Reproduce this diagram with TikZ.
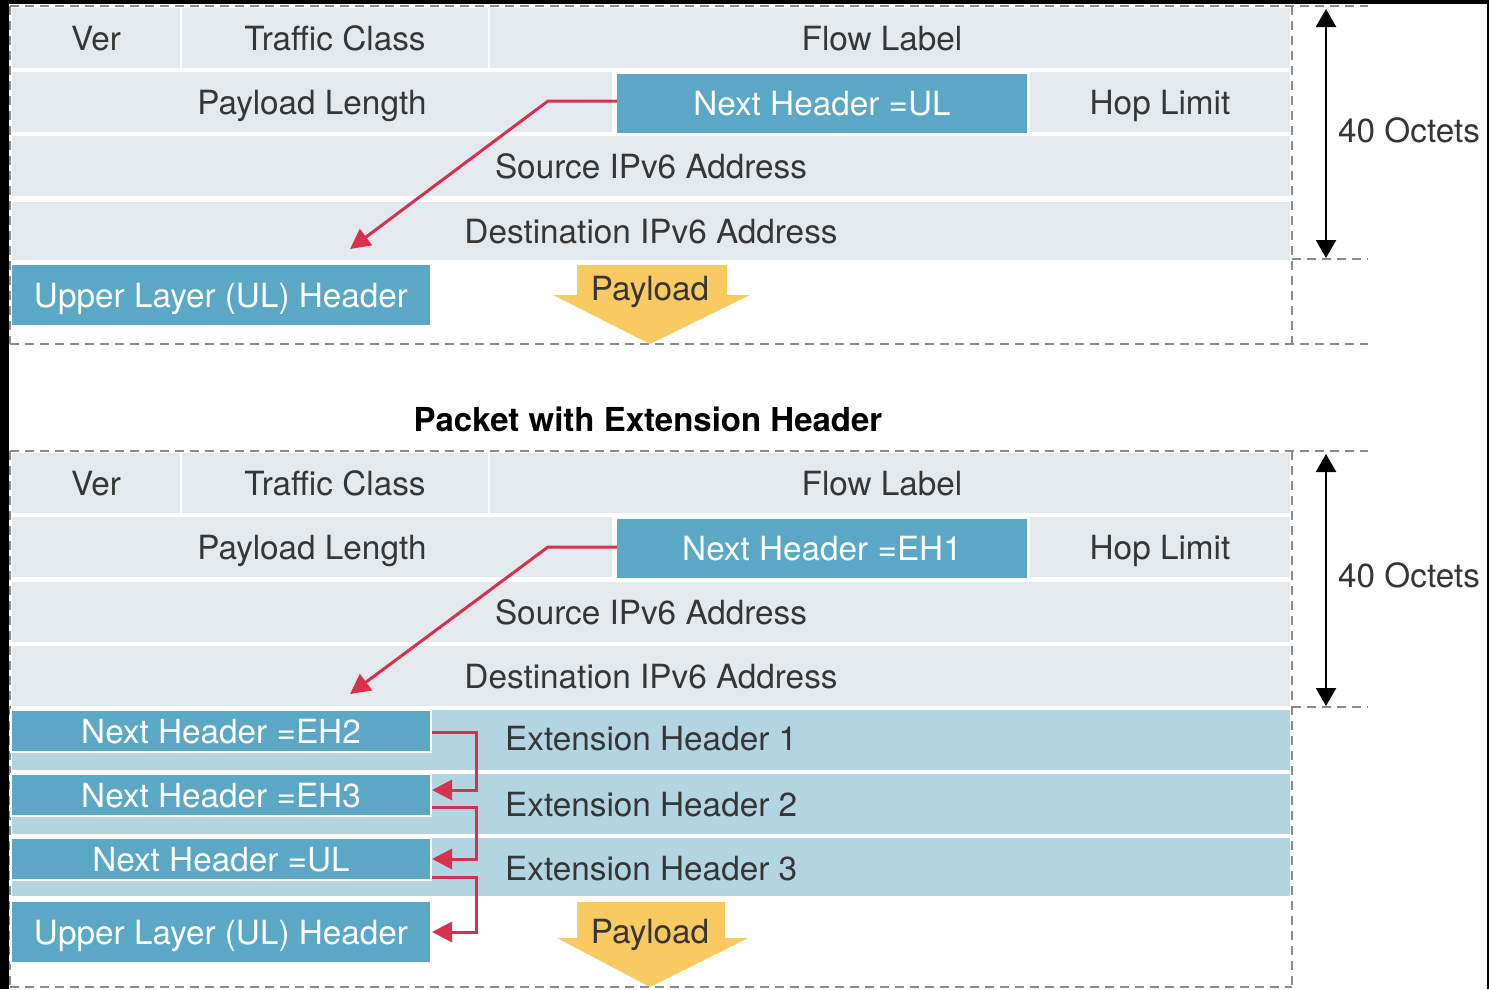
\documentclass[tikz,border=0pt]{standalone}
\usepackage{fontspec}
\setmainfont{TeX Gyre Heros}
\usetikzlibrary{arrows.meta}
\definecolor{rowc}{HTML}{E4E9EE}
\definecolor{bluec}{HTML}{5AA7C6}
\definecolor{bandc}{HTML}{B3D4E1}
\definecolor{yelc}{HTML}{F9CA62}
\definecolor{redc}{HTML}{D8314E}
\definecolor{txtc}{HTML}{363636}
\definecolor{dashc}{HTML}{8C8C8C}
\begin{document}
\begin{tikzpicture}[x=1pt,y=-1pt,
  lbl/.style={inner sep=0pt, font=\fontsize{33.3}{38}\selectfont, text height=24pt, text depth=0pt},
  cell/.style={lbl, fill=rowc, text=txtc, anchor=center},
  bluebox/.style={lbl, fill=bluec, text=white, anchor=center},
  bandbox/.style={fill=bandc, inner sep=0pt, anchor=center},
  dashln/.style={draw=dashc, line width=2.5pt, dash pattern=on 9pt off 6pt},
  redln/.style={draw=redc, line width=3pt, -{Triangle[length=20pt,width=20pt]}},
  dimarrow/.style={draw=black, line width=2.5pt, {Triangle[length=18pt,width=20pt]}-{Triangle[length=18pt,width=20pt]}},
  yelarrow/.style={fill=yelc}
]
\useasboundingbox (0,0) rectangle (1489,989);
\fill[black] (0,0) rectangle (1489,989);
\fill[white] (9,4) rectangle (1487,989);

% ---------------- upper packet ----------------
\draw[dashln] (10,6) -- (1368,6);
\draw[dashln] (10,6) -- (10,344);
\draw[dashln] (1292,6) -- (1292,344);
\draw[dashln] (1292,259) -- (1368,259);
\draw[dashln] (10,344) -- (1368,344);

\node[cell, minimum width=168pt, minimum height=60pt] (ver1) at (96,38) {Ver};
\node[cell, minimum width=306pt, minimum height=60pt] (tc1) at (335,38) {Traffic Class};
\node[cell, minimum width=800pt, minimum height=60pt] (fl1) at (890,38) {Flow Label\kern16pt};
\node[cell, minimum width=600pt, minimum height=60pt] (pl1) at (312,102) {Payload Length};
\node[bluebox, minimum width=410pt, minimum height=59pt] (nh1) at (822,103) {Next Header =UL};
\node[cell, minimum width=260pt, minimum height=60pt] (hl1) at (1160,102) {Hop Limit};
\node[cell, minimum width=1278pt, minimum height=60pt] (src1) at (651,166) {Source IPv6 Address};
\node[cell, minimum width=1278pt, minimum height=58pt] (dst1) at (651,231) {Destination IPv6 Address};
\node[bluebox, minimum width=418pt, minimum height=60pt] (ulh1) at (221,295) {Upper Layer (UL) Header};

\fill[yelarrow] (577,265) -- (727,265) -- (727,295) -- (750,295) -- (650,344) -- (553,295) -- (577,295) -- cycle;
\node[lbl, text=txtc] (pay1) at (650,288) {Payload};

\coordinate (k1) at (548,101);
\coordinate (t1) at (350,249);
\draw[redln] (nh1.west |- k1) -- (k1) -- (t1);

\coordinate (a1top) at (1326,9);
\coordinate (a1bot) at (1326,258);
\draw[dimarrow] (a1top) -- (a1bot);
\node[lbl, text=txtc, anchor=west] (oct1) at (1338,130) {40 Octets};

% ---------------- title ----------------
\node[lbl, text=black, font=\fontsize{33}{38}\selectfont\bfseries] (title) at (648,419) {Packet with Extension Header};

% ---------------- lower packet ----------------
\draw[dashln] (10,451) -- (1368,451);
\draw[dashln] (10,451) -- (10,989);
\draw[dashln] (1292,451) -- (1292,987);
\draw[dashln] (1292,707) -- (1368,707);
\draw[dashln] (10,987) -- (1292,987);

\node[cell, minimum width=168pt, minimum height=60pt] (ver2) at (96,483) {Ver};
\node[cell, minimum width=306pt, minimum height=60pt] (tc2) at (335,483) {Traffic Class};
\node[cell, minimum width=800pt, minimum height=60pt] (fl2) at (890,483) {Flow Label\kern16pt};
\node[cell, minimum width=600pt, minimum height=60pt] (pl2) at (312,547) {Payload Length};
\node[bluebox, minimum width=410pt, minimum height=59pt] (nh2top) at (822,548) {Next Header =EH1};
\node[cell, minimum width=260pt, minimum height=60pt] (hl2) at (1160,547) {Hop Limit};
\node[cell, minimum width=1278pt, minimum height=60pt] (src2) at (651,612) {Source IPv6 Address};
\node[cell, minimum width=1278pt, minimum height=60pt] (dst2) at (651,676) {Destination IPv6 Address};

\node[bandbox, minimum width=1278pt, minimum height=60pt] (eh1) at (651,740) {};
\node[bandbox, minimum width=1278pt, minimum height=60pt] (eh2) at (651,804) {};
\node[bandbox, minimum width=1278pt, minimum height=58pt] (eh3) at (651,867) {};
\node[lbl, text=txtc, anchor=west] (eh1t) at (505,738) {Extension Header 1};
\node[lbl, text=txtc, anchor=west] (eh2t) at (505,804) {Extension Header 2};
\node[lbl, text=txtc, anchor=west] (eh3t) at (505,868) {Extension Header 3};

\node[bluebox, draw=white, line width=2pt, minimum width=420pt, minimum height=42pt] (nhA) at (221,731) {Next Header =EH2};
\node[bluebox, draw=white, line width=2pt, minimum width=420pt, minimum height=42pt] (nhB) at (221,795) {Next Header =EH3};
\node[bluebox, draw=white, line width=2pt, minimum width=420pt, minimum height=42pt] (nhC) at (221,859) {Next Header =UL};
\node[bluebox, draw=white, line width=2pt, minimum width=420pt, minimum height=62pt] (ulh2) at (221,932) {Upper Layer (UL) Header};

\fill[yelarrow] (577,902) -- (725,902) -- (725,938) -- (748,938) -- (650,987) -- (557,938) -- (577,938) -- cycle;
\node[lbl, text=txtc] (pay2) at (650,931) {Payload};

\coordinate (k2) at (548,547);
\coordinate (t2) at (350,694);
\draw[redln] (nh2top.west |- k2) -- (k2) -- (t2);

\draw[redln] ([yshift=-1pt]nhA.east) -- ++(44,0) |- ([yshift=5pt]nhB.east);
\draw[redln] ([yshift=-12pt]nhB.east) -- ++(44,0) |- (nhC.east);
\draw[redln] ([yshift=-18pt]nhC.east) -- ++(44,0) |- (ulh2.east);

\coordinate (a2top) at (1326,454);
\coordinate (a2bot) at (1326,706);
\draw[dimarrow] (a2top) -- (a2bot);
\node[lbl, text=txtc, anchor=west] (oct2) at (1338,575) {40 Octets};
\end{tikzpicture}
\end{document}
